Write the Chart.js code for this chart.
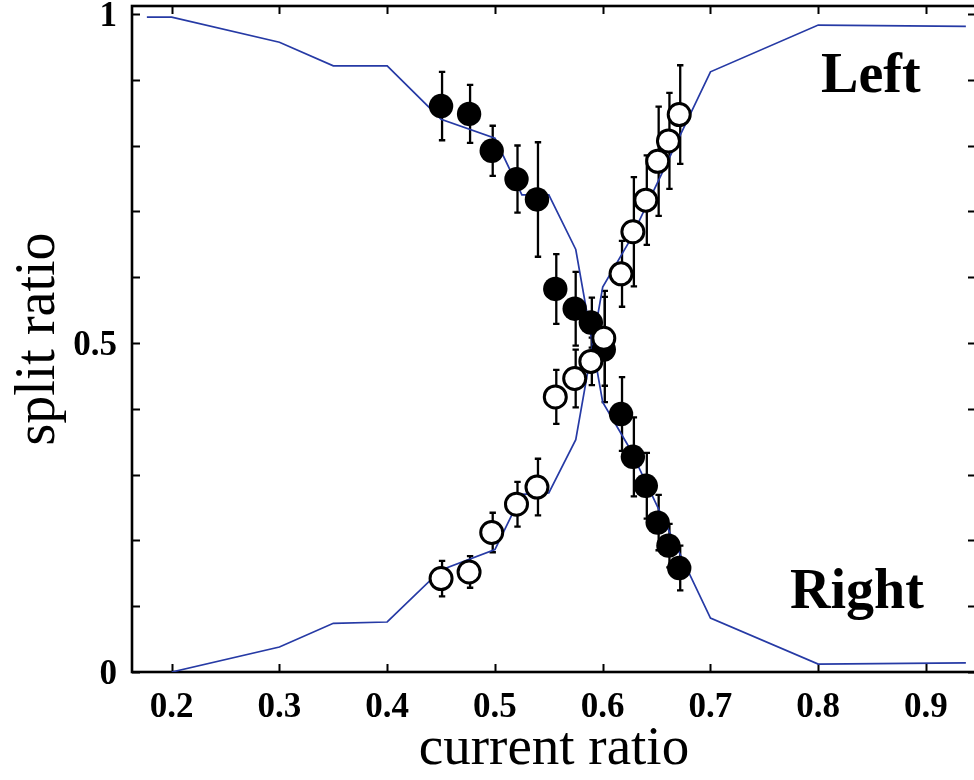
<!DOCTYPE html>
<html><head><meta charset="utf-8">
<script src="https://cdn.jsdelivr.net/npm/chart.js@4/dist/chart.umd.min.js"></script>
<style>html,body{margin:0;padding:0;background:#fff;overflow:hidden;width:974px;height:780px}canvas{display:block}</style>
</head><body><canvas id="c" width="978" height="780"></canvas>
<script>
// ---- data ----
const currentRatio = [0.450, 0.476, 0.497, 0.520, 0.539, 0.556, 0.574, 0.589, 0.601, 0.617, 0.628, 0.640, 0.651, 0.661, 0.671];
const leftSplit    = [0.860, 0.848, 0.792, 0.749, 0.718, 0.582, 0.552, 0.531, 0.490, 0.392, 0.327, 0.283, 0.227, 0.192, 0.158];
const leftErr      = [0.052, 0.044, 0.038, 0.051, 0.087, 0.053, 0.056, 0.038, 0.080, 0.056, 0.060, 0.050, 0.042, 0.033, 0.034];
const rightSplit   = [0.142, 0.152, 0.212, 0.255, 0.281, 0.418, 0.446, 0.472, 0.507, 0.605, 0.669, 0.717, 0.776, 0.807, 0.847];
const rightErr     = [0.027, 0.024, 0.030, 0.034, 0.043, 0.041, 0.044, 0.036, 0.072, 0.050, 0.083, 0.068, 0.083, 0.073, 0.075];
const modelRatio   = [0.177, 0.2, 0.3, 0.35, 0.4, 0.45, 0.5, 0.525, 0.55, 0.575, 0.6, 0.625, 0.7, 0.8, 0.937];
const modelLeft    = [0.995, 0.995, 0.957, 0.921, 0.921, 0.840, 0.811, 0.725, 0.725, 0.642, 0.410, 0.340, 0.082, 0.012, 0.014];
const modelRight   = [null, 0.000, 0.038, 0.074, 0.076, 0.155, 0.186, 0.270, 0.272, 0.353, 0.585, 0.655, 0.912, 0.983, 0.981];
const xTicks       = [0.2, 0.3, 0.4, 0.5, 0.6, 0.7, 0.8, 0.9];
const xTickLabels  = ['0.2', '0.3', '0.4', '0.5', '0.6', '0.7', '0.8', '0.9'];
const yTicks       = [0, 0.1, 0.2, 0.3, 0.4, 0.5, 0.6, 0.7, 0.8, 0.9, 1];
const yLabelTicks  = [0, 0.5, 1];
const yTickLabels  = ['0', '0.5', '1'];
const seriesNames  = ['Left', 'Right'];
const axisTitles   = {x: 'current ratio', y: 'split ratio'};

// ---- styling / placement ----
const SERIF = '"Liberation Serif", "Times New Roman", serif';
const BLUE = 'rgb(38,58,165)';
const nameAnchors = [{x: 0.8026, y: 0.881}, {x: 0.7738, y: 0.097}];

const pts = (xs, ys) => xs.map((x, i) => ({x, y: ys[i]}));
const noPad = s => { s.paddingTop = 0; s.paddingBottom = 0; s.paddingLeft = 0; s.paddingRight = 0; };

const framePlugin = {
  id: 'frame',
  beforeDatasetsDraw(chart) {
    const {ctx, chartArea: a, scales: {x, y}} = chart;
    ctx.save();
    ctx.strokeStyle = '#000';
    ctx.lineWidth = 2.6;
    ctx.strokeRect(a.left, a.top, a.right - a.left, a.bottom - a.top);
    ctx.lineWidth = 2;
    const tl = 8;
    ctx.beginPath();
    xTicks.forEach(v => {
      const px = Math.round(x.getPixelForValue(v)) + 0.5;
      ctx.moveTo(px, a.bottom); ctx.lineTo(px, a.bottom - tl);
      ctx.moveTo(px, a.top); ctx.lineTo(px, a.top + tl);
    });
    yTicks.forEach(v => {
      const py = Math.round(y.getPixelForValue(v)) + 0.5;
      ctx.moveTo(a.left, py); ctx.lineTo(a.left + tl, py);
      ctx.moveTo(a.right, py); ctx.lineTo(a.right - tl, py);
    });
    ctx.stroke();
    // error bars
    ctx.lineWidth = 2.3;
    const cap = 3.2;
    [[leftSplit, leftErr], [rightSplit, rightErr]].forEach(([vals, errs]) => {
      ctx.beginPath();
      currentRatio.forEach((cx, i) => {
        const px = x.getPixelForValue(cx) + 1;
        const y1 = y.getPixelForValue(vals[i] + errs[i]);
        const y2 = y.getPixelForValue(vals[i] - errs[i]);
        ctx.moveTo(px, y1); ctx.lineTo(px, y2);
        ctx.moveTo(px - cap, y1); ctx.lineTo(px + cap, y1);
        ctx.moveTo(px - cap, y2); ctx.lineTo(px + cap, y2);
      });
      ctx.stroke();
    });
    ctx.restore();
  },
  afterDatasetsDraw(chart) {
    const {ctx, scales: {x, y}} = chart;
    ctx.save();
    ctx.fillStyle = '#000';
    ctx.font = 'bold 56px ' + SERIF;
    ctx.textAlign = 'left';
    ctx.textBaseline = 'alphabetic';
    seriesNames.forEach((n, i) => {
      ctx.fillText(n, x.getPixelForValue(nameAnchors[i].x), y.getPixelForValue(nameAnchors[i].y));
    });
    ctx.restore();
  }
};

new Chart(document.getElementById('c'), {
  type: 'scatter',
  data: {
    datasets: [
      {label: 'Right data', data: pts(currentRatio, rightSplit), order: 0,
       pointRadius: 11, pointHoverRadius: 11, pointBackgroundColor: '#fff', pointBorderColor: '#000', pointBorderWidth: 3, showLine: false},
      {label: 'Left data', data: pts(currentRatio, leftSplit), order: 1,
       pointRadius: 12.2, pointHoverRadius: 12.2, pointBackgroundColor: '#000', pointBorderColor: '#000', pointBorderWidth: 0, showLine: false},
      {label: 'Left model', data: pts(modelRatio, modelLeft), order: 2, type: 'line',
       borderColor: BLUE, borderWidth: 1.7, pointRadius: 0, fill: false, tension: 0},
      {label: 'Right model', data: pts(modelRatio, modelRight), order: 3, type: 'line',
       borderColor: BLUE, borderWidth: 1.7, pointRadius: 0, fill: false, tension: 0}
    ]
  },
  options: {
    responsive: false,
    animation: false,
    events: [],
    layout: {autoPadding: false, padding: {top: 6, right: 2, left: 0, bottom: 0}},
    plugins: {legend: {display: false}, tooltip: {enabled: false}},
    scales: {
      x: {
        type: 'linear', min: 0.1632, max: 0.9464,
        afterBuildTicks: s => { s.ticks = xTicks.map(v => ({value: v})); },
        afterFit: s => { s.height = 108; noPad(s); },
        grid: {display: false, drawTicks: false},
        border: {display: false},
        ticks: {color: '#000', padding: 15, font: {family: SERIF, size: 35, weight: 'bold'},
                callback: (v, i) => xTickLabels[i], maxRotation: 0, autoSkip: false},
        title: {display: true, text: axisTitles.x, color: '#000', padding: {top: 0, bottom: -3},
                font: {family: SERIF, size: 55, weight: 'normal'}}
      },
      y: {
        type: 'linear', min: 0, max: 1.012,
        afterBuildTicks: s => { s.ticks = yLabelTicks.map(v => ({value: v})); },
        afterFit: s => { s.width = 132; noPad(s); },
        grid: {display: false, drawTicks: false},
        border: {display: false},
        ticks: {color: '#000', padding: 15, labelOffset: 3, font: {family: SERIF, size: 35, weight: 'bold'},
                callback: (v, i) => yTickLabels[i], autoSkip: false},
        title: {display: true, text: axisTitles.y, color: '#000', padding: {top: 6, bottom: 0},
                font: {family: SERIF, size: 56, weight: 'normal'}}
      }
    }
  },
  plugins: [framePlugin]
});
</script>
</body></html>
